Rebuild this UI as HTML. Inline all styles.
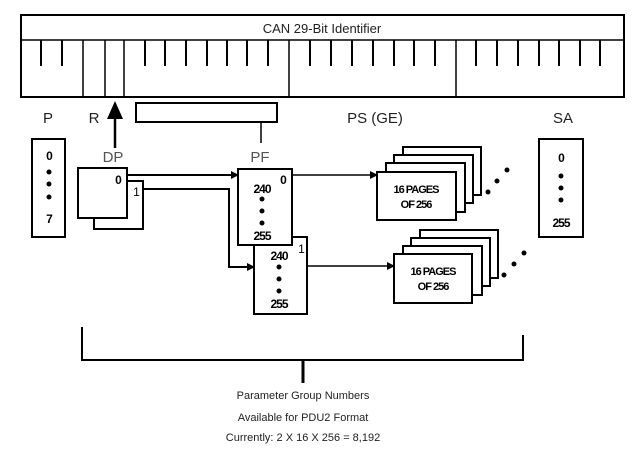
<!DOCTYPE html>
<html><head><style>html,body{margin:0;padding:0;background:#fff}svg{display:block}</style></head><body>
<svg width="636" height="458" viewBox="0 0 636 458" xmlns="http://www.w3.org/2000/svg" font-family="Liberation Sans, sans-serif">
<defs><marker id="a" markerWidth="8" markerHeight="8" refX="7" refY="4" orient="auto" markerUnits="userSpaceOnUse"><path d="M0,0 L8,4 L0,8 z" fill="#000"/></marker></defs>
<g stroke="#000" fill="none">
<rect x="21" y="15" width="603" height="82" stroke-width="2"/>
<line x1="21" y1="40" x2="624" y2="40" stroke-width="1.5"/>
<g stroke-width="1.5">
<line x1="83" y1="40" x2="83" y2="97"/><line x1="105" y1="40" x2="105" y2="97"/><line x1="124" y1="40" x2="124" y2="97"/><line x1="289" y1="40" x2="289" y2="97"/><line x1="456" y1="40" x2="456" y2="97"/>
</g>
<g stroke-width="2">
<line x1="41" y1="40" x2="41" y2="66"/><line x1="62" y1="40" x2="62" y2="66"/>
<line x1="145" y1="40" x2="145" y2="66"/><line x1="165" y1="40" x2="165" y2="66"/><line x1="186" y1="40" x2="186" y2="66"/><line x1="207" y1="40" x2="207" y2="66"/><line x1="227" y1="40" x2="227" y2="66"/><line x1="247" y1="40" x2="247" y2="66"/><line x1="268" y1="40" x2="268" y2="66"/>
<line x1="310" y1="40" x2="310" y2="66"/><line x1="331" y1="40" x2="331" y2="66"/><line x1="352" y1="40" x2="352" y2="66"/><line x1="373" y1="40" x2="373" y2="66"/><line x1="394" y1="40" x2="394" y2="66"/><line x1="414" y1="40" x2="414" y2="66"/><line x1="435" y1="40" x2="435" y2="66"/>
<line x1="476" y1="40" x2="476" y2="66"/><line x1="497" y1="40" x2="497" y2="66"/><line x1="518" y1="40" x2="518" y2="66"/><line x1="539" y1="40" x2="539" y2="66"/><line x1="559" y1="40" x2="559" y2="66"/><line x1="580" y1="40" x2="580" y2="66"/><line x1="600" y1="40" x2="600" y2="66"/>
</g>
<line x1="115" y1="148" x2="115" y2="115" stroke-width="2.5"/>
<rect x="136" y="103" width="141" height="19" stroke-width="2"/>
<line x1="261" y1="122" x2="261" y2="143" stroke-width="1.5"/>
<rect x="32" y="139" width="33" height="98" stroke-width="2"/>
<rect x="94" y="181" width="49" height="48" stroke-width="2"/>
<rect x="78" y="168" width="49" height="50" stroke-width="2" fill="#fff"/>
<line x1="127" y1="175" x2="238" y2="175" stroke-width="2" marker-end="url(#a)"/>
<polyline points="143,189 229,189 229,267 254,267" stroke-width="2" marker-end="url(#a)"/>
<rect x="254" y="237" width="53" height="77" stroke-width="2" fill="#fff"/>
<rect x="238" y="169" width="54" height="76" stroke-width="2" fill="#fff"/>
<line x1="292" y1="175" x2="377" y2="175" stroke-width="1.5" marker-end="url(#a)"/>
<line x1="307" y1="266" x2="394" y2="266" stroke-width="1.5" marker-end="url(#a)"/>
<g stroke-width="2" fill="#fff">
<rect x="403" y="147" width="78" height="48"/><rect x="394" y="155" width="79" height="48"/><rect x="386" y="163" width="79" height="49"/><rect x="377" y="172" width="79" height="48"/>
<rect x="420" y="230" width="78" height="48"/><rect x="411" y="238" width="79" height="48"/><rect x="403" y="246" width="79" height="49"/><rect x="394" y="254" width="78" height="49"/>
</g>
<rect x="539" y="139" width="44" height="98" stroke-width="2"/>
<polyline points="82,327 82,360 523,360 523,335" stroke-width="2"/>
<line x1="303" y1="360" x2="303" y2="383" stroke-width="3"/>
</g>
<path d="M107,119 L115,101 L123,119 z" fill="#000"/>
<g fill="#000">
<circle cx="49" cy="172" r="2.5"/><circle cx="49" cy="184" r="2.5"/><circle cx="49" cy="197" r="2.5"/>
<circle cx="262" cy="199" r="2.5"/><circle cx="262" cy="211" r="2.5"/><circle cx="262" cy="223" r="2.5"/>
<circle cx="279" cy="267" r="2.5"/><circle cx="279" cy="279" r="2.5"/><circle cx="279" cy="291" r="2.5"/>
<circle cx="561" cy="176" r="2.5"/><circle cx="561" cy="188" r="2.5"/><circle cx="561" cy="200" r="2.5"/>
<circle cx="488" cy="192" r="2.5"/><circle cx="497" cy="181" r="2.5"/><circle cx="507" cy="170" r="2.5"/>
<circle cx="504" cy="275" r="2.5"/><circle cx="514" cy="264" r="2.5"/><circle cx="524" cy="253" r="2.5"/>
</g>
<g font-size="13" fill="#222" text-anchor="middle">
<text x="322" y="33">CAN 29-Bit Identifier</text>
<text x="48" y="123" font-size="15">P</text>
<text x="94" y="123" font-size="15">R</text>
<text x="375" y="123" font-size="15">PS (GE)</text>
<text x="563" y="123" font-size="15">SA</text>
<text x="113" y="162" font-size="15" fill="#555">DP</text>
<text x="260" y="162" font-size="15" fill="#555">PF</text>
</g>
<g font-size="12" font-weight="bold" fill="#000" text-anchor="middle" letter-spacing="-1">
<text x="49" y="160">0</text><text x="49" y="223">7</text>
<text x="118" y="184">0</text><text x="136" y="196" font-weight="normal">1</text>
<text x="283" y="184">0</text><text x="301" y="253" font-weight="normal">1</text>
<text x="262" y="193">240</text><text x="262" y="240">255</text>
<text x="279" y="260">240</text><text x="279" y="308">255</text>
<text x="561" y="162">0</text><text x="561" y="227">255</text>
<text x="416" y="193" font-size="11">16 PAGES</text><text x="416" y="208" font-size="11">OF 256</text>
<text x="433" y="275" font-size="11">16 PAGES</text><text x="433" y="290" font-size="11">OF 256</text>
</g>
<g font-size="11" fill="#222" text-anchor="middle">
<text x="303" y="399">Parameter Group Numbers</text>
<text x="303" y="421">Available for PDU2 Format</text>
<text x="303" y="441">Currently:  2 X 16 X 256 = 8,192</text>
</g>
</svg>
</body></html>
